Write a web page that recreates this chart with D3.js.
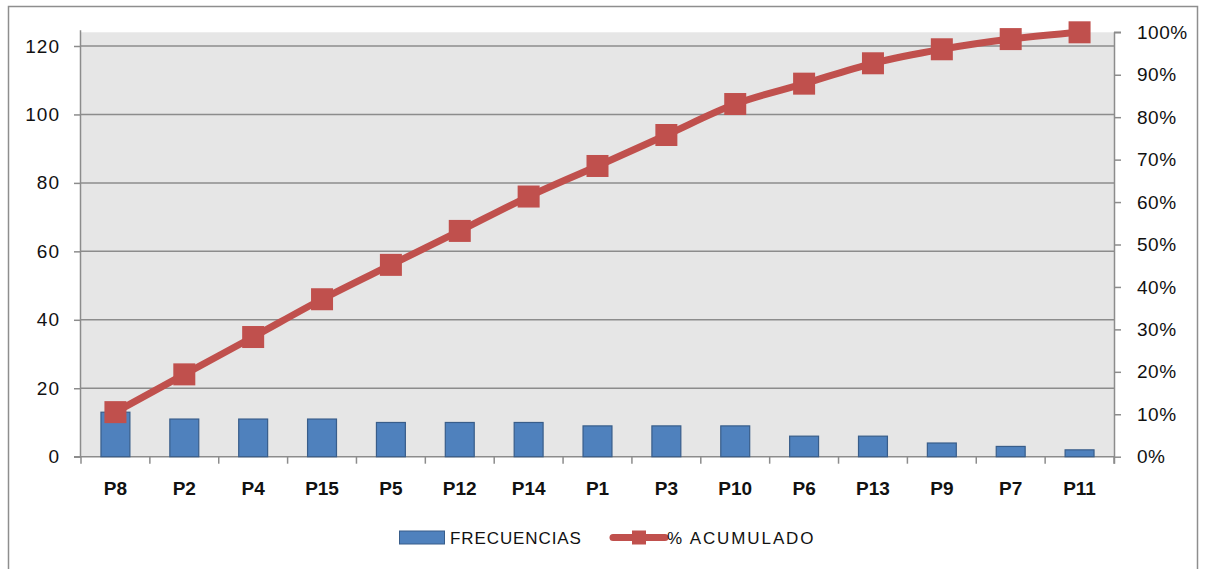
<!DOCTYPE html>
<html>
<head>
<meta charset="utf-8">
<script src="https://cdn.jsdelivr.net/npm/d3@7"></script>
<style>
  html, body { margin: 0; padding: 0; background: #fff; }
  svg { display: block; }
</style>
</head>
<body>
<svg id="chart" width="1205" height="569"></svg>
<script>
// Pareto data: problem categories sorted by frequency
const categories = ["P8","P2","P4","P15","P5","P12","P14","P1","P3","P10","P6","P13","P9","P7","P11"];
const frecuencias = [13, 11, 11, 11, 10, 10, 10, 9, 9, 9, 6, 6, 4, 3, 2];
const acumulado = [10.5, 19.4, 28.2, 37.1, 45.2, 53.2, 61.3, 68.5, 75.8, 83.1, 87.9, 92.7, 96.0, 98.4, 100];
const leftTicks = [0, 20, 40, 60, 80, 100, 120];
const rightTicks = [0, 10, 20, 30, 40, 50, 60, 70, 80, 90, 100];
const seriesNames = ["FRECUENCIAS", "% ACUMULADO"];

const svg = d3.select("#chart");
const plot = { left: 81, right: 1114, top: 32.3, bottom: 456.7 };

const barColor = "#4F81BD", barStroke = "#385D8A";
const lineColor = "#C0504D";
const gridColor = "#8C8C8C";

// outer chart frame (open at the bottom)
svg.append("path")
  .attr("d", `M8.5,575 V6.5 H1197.5 V575`)
  .attr("fill", "none").attr("stroke", "#8E8E8E").attr("stroke-width", 1.5);

const x = d3.scaleBand().domain(categories).range([plot.left, plot.right]).padding(0);
const yL = d3.scaleLinear().domain([0, 124]).range([plot.bottom, plot.top]);
const yR = d3.scaleLinear().domain([0, 100]).range([plot.bottom, plot.top]);

// plot background
svg.append("rect")
  .attr("x", plot.left).attr("y", plot.top)
  .attr("width", plot.right - plot.left).attr("height", plot.bottom - plot.top)
  .attr("fill", "#E6E6E6");

// horizontal gridlines
svg.append("g").selectAll("line").data(leftTicks.filter(d => d > 0)).join("line")
  .attr("x1", plot.left).attr("x2", plot.right)
  .attr("y1", d => yL(d)).attr("y2", d => yL(d))
  .attr("stroke", gridColor).attr("stroke-width", 1.5);

const fontNum = "'Liberation Sans', Arial, sans-serif";

// left axis
const gL = svg.append("g").attr("transform", `translate(${plot.left},0)`)
  .call(d3.axisLeft(yL).tickValues(leftTicks).tickSize(7).tickPadding(14));
gL.select(".domain").attr("stroke", gridColor).attr("stroke-width", 1.5)
  .attr("d", `M-0.5,${plot.bottom} V${plot.top - 2}`);
gL.selectAll(".tick line").attr("stroke", gridColor).attr("stroke-width", 1.5);
gL.selectAll(".tick text").attr("font-family", fontNum).attr("font-size", 19)
  .attr("fill", "#111").attr("letter-spacing", "1px");

// right axis
const gR = svg.append("g").attr("transform", `translate(${plot.right},0)`)
  .call(d3.axisRight(yR).tickValues(rightTicks).tickSize(7).tickPadding(16).tickFormat(d => d + "%"));
gR.select(".domain").attr("stroke", gridColor).attr("stroke-width", 1.5)
  .attr("d", `M0,${plot.top} H7 M0.5,${plot.top} V${plot.bottom + 7}`);
gR.selectAll(".tick line").attr("stroke", gridColor).attr("stroke-width", 1.5);
gR.selectAll(".tick text").attr("font-family", fontNum).attr("font-size", 19)
  .attr("fill", "#111").attr("letter-spacing", "0.5px");

// category axis: ticks between categories
const gB = svg.append("g").attr("transform", `translate(0,${plot.bottom})`);
gB.append("line").attr("x1", plot.left - 7).attr("x2", plot.right)
  .attr("stroke", gridColor).attr("stroke-width", 1.5);
gB.selectAll("line.tk").data(categories.map(c => x(c)).concat([plot.right])).join("line")
  .attr("class", "tk")
  .attr("x1", d => d).attr("x2", d => d).attr("y1", 0).attr("y2", 7)
  .attr("stroke", gridColor).attr("stroke-width", 1.5);
gB.selectAll("text").data(categories).join("text")
  .attr("x", d => x(d) + x.bandwidth() / 2).attr("y", 38)
  .attr("text-anchor", "middle")
  .attr("font-family", fontNum).attr("font-weight", "bold").attr("font-size", 19)
  .attr("fill", "#111").text(d => d);

// bars
const barW = x.bandwidth() * 0.42;
svg.append("g").selectAll("rect").data(categories).join("rect")
  .attr("x", (d) => x(d) + (x.bandwidth() - barW) / 2)
  .attr("y", (d, i) => yL(frecuencias[i]))
  .attr("width", barW)
  .attr("height", (d, i) => plot.bottom - yL(frecuencias[i]))
  .attr("fill", barColor).attr("stroke", barStroke).attr("stroke-width", 1.2);

// cumulative line with square markers
const pts = categories.map((c, i) => [x(c) + x.bandwidth() / 2, yR(acumulado[i])]);
svg.append("path")
  .attr("d", d3.line().curve(d3.curveMonotoneX)(pts))
  .attr("fill", "none").attr("stroke", lineColor).attr("stroke-width", 7)
  .attr("stroke-linejoin", "round");
const mk = 22;
svg.append("g").selectAll("rect").data(pts).join("rect")
  .attr("x", d => d[0] - mk / 2).attr("y", d => d[1] - mk / 2)
  .attr("width", mk).attr("height", mk)
  .attr("fill", lineColor);

// legend
const leg = svg.append("g");
leg.append("rect").attr("x", 399.5).attr("y", 531).attr("width", 45).attr("height", 13)
  .attr("fill", barColor).attr("stroke", barStroke).attr("stroke-width", 1);
leg.append("text").attr("x", 450).attr("y", 544)
  .attr("font-family", fontNum).attr("font-size", 17).attr("letter-spacing", "0.9px")
  .attr("fill", "#111").text(seriesNames[0]);
leg.append("line").attr("x1", 613).attr("x2", 665).attr("y1", 537.5).attr("y2", 537.5)
  .attr("stroke", lineColor).attr("stroke-width", 7).attr("stroke-linecap", "round");
leg.append("rect").attr("x", 632).attr("y", 530.5).attr("width", 14).attr("height", 14)
  .attr("fill", lineColor);
leg.append("text").attr("x", 667).attr("y", 544)
  .attr("font-family", fontNum).attr("font-size", 17).attr("letter-spacing", "1.9px")
  .attr("fill", "#111").text(seriesNames[1]);
</script>
</body>
</html>
